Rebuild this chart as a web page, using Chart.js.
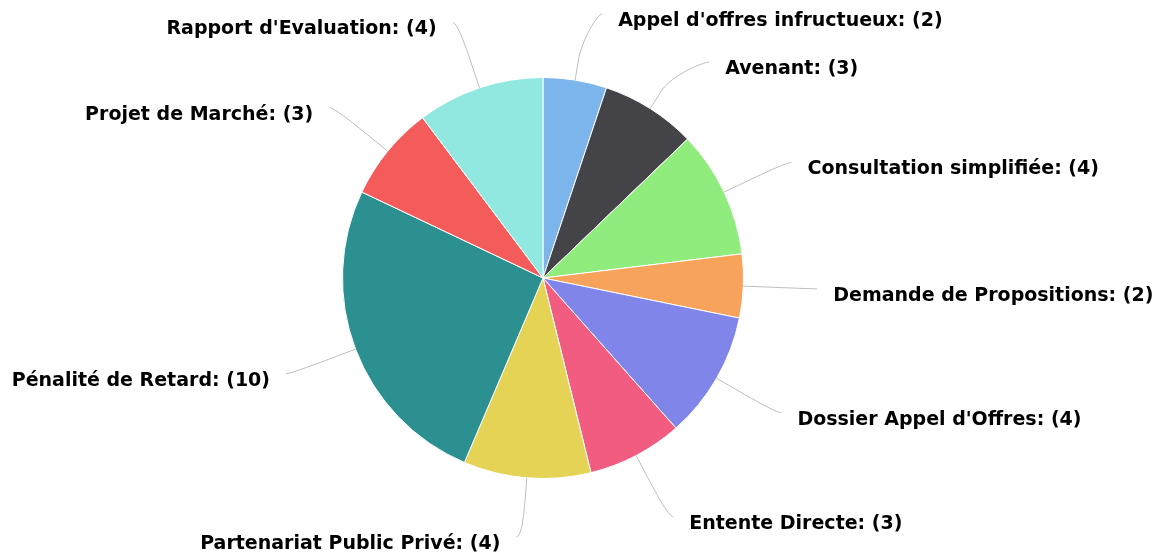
<!DOCTYPE html>
<html>
<head>
<meta charset="utf-8">
<script src="https://cdn.jsdelivr.net/npm/chart.js@4/dist/chart.umd.min.js"></script>
<style>
  html, body { margin: 0; padding: 0; background: #fff; }
  #wrap { width: 1171px; height: 560px; position: relative; }
</style>
</head>
<body>
<div id="wrap"><canvas id="pieChart"></canvas></div>
<script>
// types de dossiers et nombre de dossiers
const categories = [
    "Appel d'offres infructueux",
    "Avenant",
    "Consultation simplifiée",
    "Demande de Propositions",
    "Dossier Appel d'Offres",
    "Entente Directe",
    "Partenariat Public Privé",
    "Pénalité de Retard",
    "Projet de Marché",
    "Rapport d'Evaluation"
];
const counts = [2, 3, 4, 2, 4, 3, 4, 10, 3, 4];
const colors = ["#7cb5ec", "#434348", "#90ed7d", "#f7a35c", "#8085e9",
                "#f15c80", "#e4d354", "#2b908f", "#f45b5b", "#91e8e1"];

const labelFont = "bold 19px 'DejaVu Sans', sans-serif";
const labelDistance = 69;
const minGap = 48;

// étiquettes avec connecteurs, façon Highcharts
const outsideLabels = {
    id: "outsideLabels",
    afterDatasetsDraw(chart) {
        const ctx = chart.ctx;
        const meta = chart.getDatasetMeta(0);
        const yMin = 14, yMax = chart.height - 23;

        const getX = (it, side) => {
            const dy = it.y - it.arc.y;
            const dx = Math.sqrt(Math.max(0, it.R * it.R - dy * dy));
            return it.arc.x + (side ? dx : -dx);
        };

        const items = meta.data.map((arc, i) => {
            const mid = (arc.startAngle + arc.endAngle) / 2;
            const cos = Math.cos(mid), sin = Math.sin(mid);
            const r = arc.outerRadius;
            const R = r + labelDistance;
            const it = { i, arc, cos, sin, r, R, right: cos >= 0, x: arc.x + cos * R, y: arc.y + sin * R };
            if (it.y < yMin) {
                it.y = yMin;
                it.x = getX(it, it.right);
            } else if (it.y > yMax) {
                it.y = yMax;
            }
            return it;
        });

        // éviter les chevauchements de chaque côté
        [true, false].forEach(side => {
            const list = items.filter(it => it.right === side).sort((a, b) => a.y - b.y);
            for (let k = 1; k < list.length; k++) {
                const prev = list[k - 1], it = list[k];
                if (it.y - prev.y < minGap) {
                    it.y = prev.y + minGap;
                    it.x = getX(it, side);
                }
            }
        });

        ctx.save();
        items.forEach(it => {
            const { arc, cos, sin, r, right } = it;
            const edge = { x: arc.x + cos * r, y: arc.y + sin * r };
            const brk = { x: arc.x + cos * (r + 20), y: arc.y + sin * (r + 20) };
            const end = { x: it.x, y: it.y };

            ctx.beginPath();
            ctx.moveTo(end.x + (right ? 5 : -5), end.y);
            ctx.bezierCurveTo(end.x, end.y, 2 * brk.x - edge.x, 2 * brk.y - edge.y, brk.x, brk.y);
            ctx.lineTo(edge.x, edge.y);
            ctx.strokeStyle = "#bdbdbd";
            ctx.lineWidth = 1;
            ctx.stroke();

            ctx.font = labelFont;
            ctx.fillStyle = "#000";
            ctx.textBaseline = "alphabetic";
            ctx.textAlign = right ? "left" : "right";
            const txt = categories[it.i] + ": (" + counts[it.i] + ")";
            ctx.fillText(txt, end.x + (right ? 21 : -21), end.y + 12);
        });
        ctx.restore();
    }
};

const ctx = document.getElementById("pieChart").getContext("2d");
const pieChart = new Chart(ctx, {
    type: "pie",
    data: {
        labels: categories,
        datasets: [{
            data: counts,
            backgroundColor: colors,
            borderColor: "#ffffff",
            borderWidth: 1,
        }],
    },
    options: {
        responsive: true,
        maintainAspectRatio: false,
        animation: false,
        layout: {
            padding: { top: 77, bottom: 81, left: 342, right: 427 },
        },
        plugins: {
            legend: { display: false },
            tooltip: { enabled: false },
        },
    },
    plugins: [outsideLabels],
});
</script>
</body>
</html>
